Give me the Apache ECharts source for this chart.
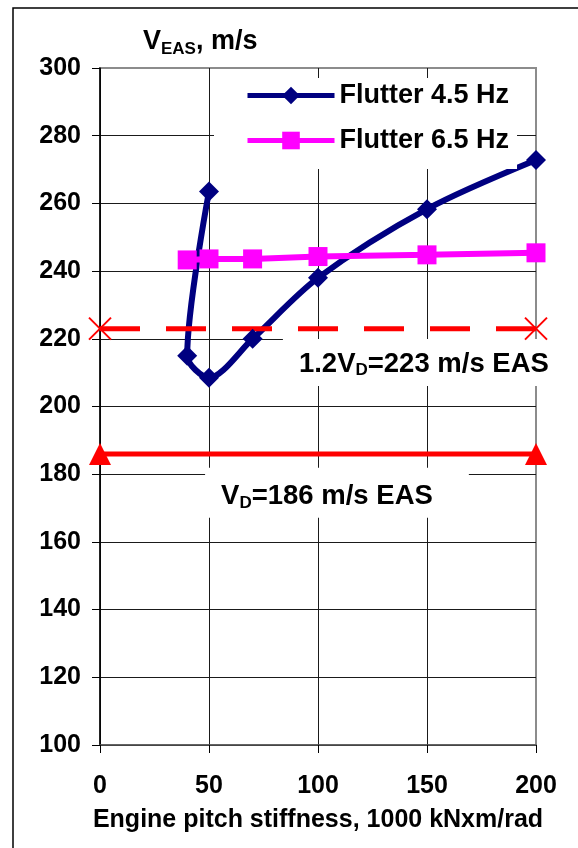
<!DOCTYPE html>
<html>
<head>
<meta charset="utf-8">
<script src="https://cdn.jsdelivr.net/npm/echarts@6/dist/echarts.min.js"></script>
<style>
  html, body { margin: 0; padding: 0; background: #fff; }
  #chart { width: 578px; height: 848px; }
</style>
</head>
<body>
<div id="chart"></div>
<script>
// Flutter speed vs engine pitch stiffness
const stiffness45 = [50, 40, 50, 70, 100, 150, 200];
const flutter45 = [263.5, 215, 208.5, 220, 238, 258.3, 272.8];
const stiffness65 = [40, 50, 70, 100, 150, 200];
const flutter65 = [243.3, 243.6, 243.6, 244.3, 244.8, 245.4];
const limitSpan = [0, 200];
const vD = 186;
const vD12 = 223;
const seriesNames = ['Flutter 4.5 Hz', 'Flutter 6.5 Hz'];
const xAxisTicks = [0, 50, 100, 150, 200];
const yAxisTicks = [100, 120, 140, 160, 180, 200, 220, 240, 260, 280, 300];

const FONT = '"Liberation Sans", Arial, sans-serif';
const NAVY = '#000080';
const MAGENTA = '#ff00ff';
const RED = '#ff0000';

const pairs = (xs, ys) => xs.map((x, i) => [x, ys[i]]);

const chart = echarts.init(document.getElementById('chart'), null, { renderer: 'canvas' });

const option = {
  animation: false,
  backgroundColor: '#fff',
  grid: {
    left: 100, top: 68, right: 42, bottom: 103,
    show: true, borderColor: '#8c8c8c', borderWidth: 2, backgroundColor: 'transparent'
  },
  xAxis: {
    type: 'value',
    min: xAxisTicks[0], max: xAxisTicks[xAxisTicks.length - 1],
    interval: xAxisTicks[1] - xAxisTicks[0],
    name: 'Engine pitch stiffness, 1000 kNxm/rad',
    nameLocation: 'middle',
    nameGap: 63,
    nameTextStyle: { fontFamily: FONT, fontWeight: 'bold', fontSize: 25, color: '#000' },
    axisLine: { show: true, onZero: false, lineStyle: { color: '#555', width: 1.5 } },
    axisTick: { show: true, inside: false, length: 8, lineStyle: { color: '#000', width: 1 } },
    axisLabel: { margin: 29, fontFamily: FONT, fontWeight: 'bold', fontSize: 25, color: '#000' },
    splitLine: { show: true, showMaxLine: false, lineStyle: { color: '#1a1a1a', width: 1 } }
  },
  yAxis: {
    type: 'value',
    min: yAxisTicks[0], max: yAxisTicks[yAxisTicks.length - 1],
    interval: yAxisTicks[1] - yAxisTicks[0],
    axisLine: { show: true, onZero: false, lineStyle: { color: '#000', width: 1.5 } },
    axisTick: { show: true, inside: false, length: 8, lineStyle: { color: '#000', width: 1 } },
    axisLabel: { margin: 19, fontFamily: FONT, fontWeight: 'bold', fontSize: 25, color: '#000' },
    splitLine: { show: true, showMaxLine: false, lineStyle: { color: '#1a1a1a', width: 1 } }
  },
  legend: {
    orient: 'vertical',
    left: 214, top: 78,
    data: seriesNames,
    itemWidth: 87, itemHeight: 22, itemGap: 18,
    padding: [4, 8, 15, 31],
    backgroundColor: '#fff',
    selectedMode: false,
    lineStyle: { width: 5 },
    textStyle: { fontFamily: FONT, fontWeight: 'bold', fontSize: 27, lineHeight: 26, color: '#000' }
  },
  series: [
    {
      name: seriesNames[0], type: 'line',
      data: pairs(stiffness45, flutter45),
      smooth: 0.3,
      symbol: 'diamond', symbolSize: 20,
      itemStyle: { color: NAVY },
      lineStyle: { color: NAVY, width: 6 },
      silent: true
    },
    {
      name: seriesNames[1], type: 'line',
      data: pairs(stiffness65, flutter65),
      symbol: 'rect', symbolSize: 19,
      itemStyle: { color: MAGENTA },
      lineStyle: { color: MAGENTA, width: 6 },
      silent: true
    },
    {
      name: '1.2 VD', type: 'line',
      data: limitSpan.map(x => [x, vD12]),
      symbol: 'path://M0,0L20,20M20,0L0,20', symbolSize: 22,
      itemStyle: { color: RED, borderColor: RED, borderWidth: 2 },
      lineStyle: { color: RED, width: 5, type: [40, 26] },
      silent: true
    },
    {
      name: 'VD', type: 'line',
      data: limitSpan.map(x => [x, vD]),
      symbol: 'triangle', symbolSize: [22, 22],
      itemStyle: { color: RED },
      lineStyle: { color: RED, width: 5 },
      silent: true
    }
  ]
};

chart.setOption(option);

// Annotation boxes, anchored in data coordinates
const anchor12 = chart.convertToPixel({ gridIndex: 0 }, [149.5, 213]);
const anchorD = chart.convertToPixel({ gridIndex: 0 }, [108.7, 174.5]);

const mainStyle = (size, lh) => ({ fontFamily: FONT, fontWeight: 'bold', fontSize: size, lineHeight: lh, fill: '#000' });
const subStyle = (size) => ({ fontFamily: FONT, fontWeight: 'bold', fontSize: size, lineHeight: 14, verticalAlign: 'bottom', fill: '#000' });

chart.setOption({
  graphic: [
    {
      type: 'rect', silent: true, z: 0,
      shape: { x: 13, y: 8, width: 700, height: 900 },
      style: { fill: 'none', stroke: '#000', lineWidth: 1.5 }
    },
    {
      type: 'text', silent: true, z: 1,
      x: 143, y: 41.5,
      style: {
        text: '{m|V}{s|EAS}{m|, m/s}',
        align: 'left', verticalAlign: 'middle',
        rich: { m: mainStyle(27, 32), s: subStyle(17) }
      }
    },
    {
      type: 'text', silent: true, z: 1,
      x: anchor12[0], y: anchor12[1],
      style: {
        text: '{m|1.2V}{d|D}{m|=' + vD12 + ' m/s EAS}',
        align: 'center', verticalAlign: 'middle',
        backgroundColor: '#fff',
        padding: [10, 20, 7, 16],
        rich: { m: mainStyle(27.5, 30), d: subStyle(17) }
      }
    },
    {
      type: 'text', silent: true, z: 1,
      x: anchorD[0], y: anchorD[1],
      style: {
        text: '{m|V}{d|D}{m|=' + vD + ' m/s EAS}',
        align: 'center', verticalAlign: 'middle',
        backgroundColor: '#fff',
        padding: [14, 36, 6, 16],
        rich: { m: mainStyle(27.5, 30), d: subStyle(17) }
      }
    }
  ]
});
</script>
</body>
</html>
